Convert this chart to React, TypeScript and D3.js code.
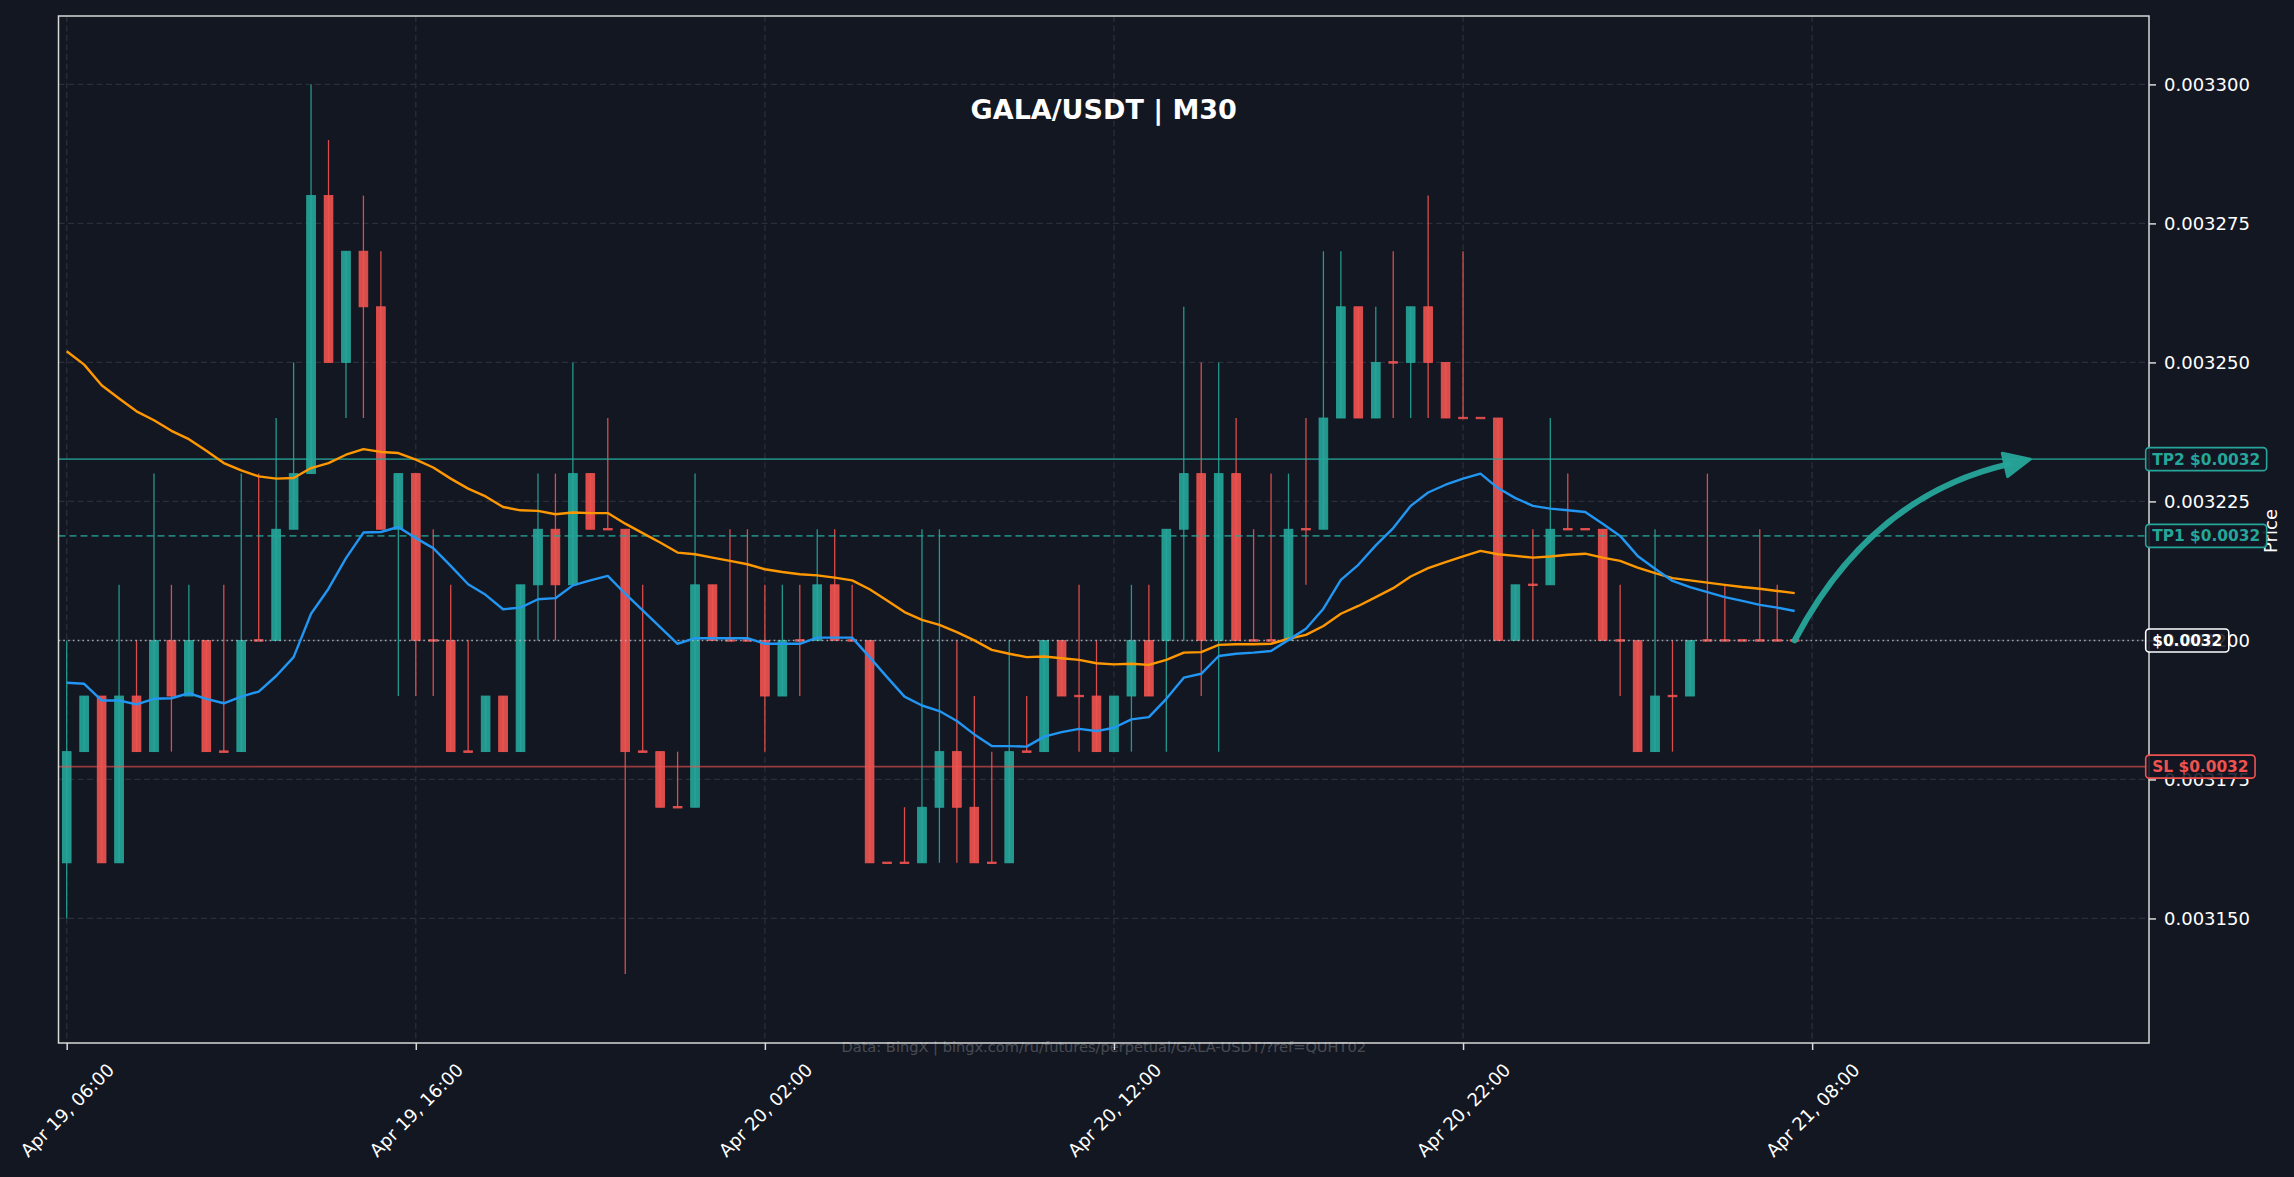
import React, { useRef, useEffect } from 'react';
import * as d3 from 'd3';

const W = 2294;
const H = 1177;

// candle times: M30 bars starting Apr 19, 06:00
const startTime = new Date(2025, 3, 19, 6, 0);
const barMinutes = 30;

const opens = [
  0.00316, 0.00318, 0.00319, 0.00316, 0.00319, 0.00318, 0.0032, 0.00319, 0.0032, 0.00318,
  0.00318, 0.0032, 0.0032, 0.00322, 0.00323, 0.00328, 0.00325, 0.00327, 0.00326, 0.00322,
  0.00323, 0.0032, 0.0032, 0.00318, 0.00318, 0.00319, 0.00318, 0.00321, 0.00322, 0.00321,
  0.00323, 0.00322, 0.00322, 0.00318, 0.00318, 0.00317, 0.00317, 0.00321, 0.0032, 0.0032,
  0.0032, 0.00319, 0.0032, 0.0032, 0.00321, 0.0032, 0.0032, 0.00316, 0.00316, 0.00316,
  0.00317, 0.00318, 0.00317, 0.00316, 0.00316, 0.00318, 0.00318, 0.0032, 0.00319, 0.00319,
  0.00318, 0.00319, 0.0032, 0.0032, 0.00322, 0.00323, 0.0032, 0.00323, 0.0032, 0.0032,
  0.0032, 0.00322, 0.00322, 0.00324, 0.00326, 0.00324, 0.00325, 0.00325, 0.00326, 0.00325,
  0.00324, 0.00324, 0.00324, 0.0032, 0.00321, 0.00321, 0.00322, 0.00322, 0.00322, 0.0032,
  0.0032, 0.00318, 0.00319, 0.00319, 0.0032, 0.0032, 0.0032, 0.0032, 0.0032, 0.0032,
];
const highs = [
  0.0032, 0.00319, 0.00319, 0.00321, 0.0032, 0.00323, 0.00321, 0.00321, 0.0032, 0.00321,
  0.00323, 0.00323, 0.00324, 0.00325, 0.0033, 0.00329, 0.00327, 0.00328, 0.00327, 0.00323,
  0.00323, 0.00322, 0.00321, 0.0032, 0.00319, 0.00319, 0.00321, 0.00323, 0.00323, 0.00325,
  0.00323, 0.00324, 0.00322, 0.00321, 0.00318, 0.00318, 0.00323, 0.00321, 0.00322, 0.00322,
  0.00321, 0.00321, 0.00321, 0.00322, 0.00322, 0.00321, 0.0032, 0.00316, 0.00317, 0.00322,
  0.00322, 0.0032, 0.00319, 0.00318, 0.0032, 0.00319, 0.0032, 0.0032, 0.00321, 0.0032,
  0.00319, 0.00321, 0.00321, 0.00322, 0.00326, 0.00325, 0.00325, 0.00324, 0.00322, 0.00323,
  0.00323, 0.00324, 0.00327, 0.00327, 0.00326, 0.00326, 0.00327, 0.00326, 0.00328, 0.00325,
  0.00327, 0.00324, 0.00324, 0.00321, 0.00322, 0.00324, 0.00323, 0.00322, 0.00322, 0.00321,
  0.0032, 0.00322, 0.0032, 0.0032, 0.00323, 0.00321, 0.0032, 0.00322, 0.00321, 0.0032,
];
const lows = [
  0.00315, 0.00318, 0.00316, 0.00316, 0.00318, 0.00318, 0.00318, 0.00319, 0.00318, 0.00318,
  0.00318, 0.0032, 0.0032, 0.00322, 0.00323, 0.00325, 0.00324, 0.00324, 0.00322, 0.00319,
  0.00319, 0.00319, 0.00318, 0.00318, 0.00318, 0.00318, 0.00318, 0.0032, 0.0032, 0.00321,
  0.00322, 0.00322, 0.00314, 0.00318, 0.00317, 0.00317, 0.00317, 0.0032, 0.0032, 0.0032,
  0.00318, 0.00319, 0.00319, 0.0032, 0.0032, 0.0032, 0.00316, 0.00316, 0.00316, 0.00316,
  0.00316, 0.00316, 0.00316, 0.00316, 0.00316, 0.00318, 0.00318, 0.00319, 0.00318, 0.00318,
  0.00318, 0.00318, 0.00319, 0.00318, 0.0032, 0.00319, 0.00318, 0.0032, 0.0032, 0.0032,
  0.0032, 0.00321, 0.00322, 0.00324, 0.00324, 0.00324, 0.00324, 0.00324, 0.00324, 0.00324,
  0.00324, 0.00324, 0.0032, 0.0032, 0.0032, 0.00321, 0.00322, 0.00322, 0.0032, 0.00319,
  0.00318, 0.00318, 0.00318, 0.00319, 0.0032, 0.0032, 0.0032, 0.0032, 0.0032, 0.0032,
];
const closes = [
  0.00318, 0.00319, 0.00316, 0.00319, 0.00318, 0.0032, 0.00319, 0.0032, 0.00318, 0.00318,
  0.0032, 0.0032, 0.00322, 0.00323, 0.00328, 0.00325, 0.00327, 0.00326, 0.00322, 0.00323,
  0.0032, 0.0032, 0.00318, 0.00318, 0.00319, 0.00318, 0.00321, 0.00322, 0.00321, 0.00323,
  0.00322, 0.00322, 0.00318, 0.00318, 0.00317, 0.00317, 0.00321, 0.0032, 0.0032, 0.0032,
  0.00319, 0.0032, 0.0032, 0.00321, 0.0032, 0.0032, 0.00316, 0.00316, 0.00316, 0.00317,
  0.00318, 0.00317, 0.00316, 0.00316, 0.00318, 0.00318, 0.0032, 0.00319, 0.00319, 0.00318,
  0.00319, 0.0032, 0.00319, 0.00322, 0.00323, 0.0032, 0.00323, 0.0032, 0.0032, 0.0032,
  0.00322, 0.00322, 0.00324, 0.00326, 0.00324, 0.00325, 0.00325, 0.00326, 0.00325, 0.00324,
  0.00324, 0.00324, 0.0032, 0.00321, 0.00321, 0.00322, 0.00322, 0.00322, 0.0032, 0.0032,
  0.00318, 0.00319, 0.00319, 0.0032, 0.0032, 0.0032, 0.0032, 0.0032, 0.0032, 0.0032,
];

// moving averages (blue = fast, orange = slow)
const maFast = [
  0.0031924, 0.0031922, 0.0031892, 0.0031892, 0.0031885, 0.0031895, 0.0031896, 0.0031905, 0.0031895, 0.0031887,
  0.0031899, 0.0031908, 0.0031936, 0.003197, 0.0032048, 0.0032093, 0.0032148, 0.0032194, 0.0032195, 0.0032204,
  0.0032184, 0.0032166, 0.0032134, 0.0032101, 0.0032082, 0.0032056, 0.0032059, 0.0032074, 0.0032076, 0.0032099,
  0.0032108, 0.0032116, 0.0032084, 0.0032054, 0.0032024, 0.0031994, 0.0032004, 0.0032004, 0.0032004, 0.0032004,
  0.0031994, 0.0031994, 0.0031994, 0.0032005, 0.0032005, 0.0032005, 0.003197, 0.0031934, 0.0031899, 0.0031883,
  0.0031873, 0.0031855, 0.0031831, 0.003181, 0.003181, 0.0031809, 0.0031827, 0.0031835, 0.0031841, 0.0031837,
  0.0031843, 0.0031858, 0.0031862, 0.0031895, 0.0031933, 0.003194, 0.0031972, 0.0031976, 0.0031978, 0.0031981,
  0.0032001, 0.0032021, 0.0032057, 0.0032109, 0.0032136, 0.0032171, 0.0032202, 0.0032242, 0.0032266, 0.003228,
  0.0032291, 0.00323, 0.0032274, 0.0032256, 0.0032242, 0.0032237, 0.0032234, 0.0032231, 0.003221, 0.0032188,
  0.0032152, 0.0032129, 0.0032107, 0.0032096, 0.0032087, 0.0032078, 0.0032071, 0.0032064, 0.0032059, 0.0032053,
];
const maSlow = [
  0.003252, 0.0032496, 0.0032459, 0.0032435, 0.0032412, 0.0032396, 0.0032377, 0.0032362, 0.0032341, 0.0032319,
  0.0032306, 0.0032295, 0.0032291, 0.0032292, 0.003231, 0.0032319, 0.0032334, 0.0032344, 0.0032339, 0.0032337,
  0.0032325, 0.0032311, 0.0032291, 0.0032273, 0.0032259, 0.003224, 0.0032234, 0.0032233, 0.0032227, 0.003223,
  0.0032229, 0.0032229, 0.003221, 0.0032193, 0.0032176, 0.0032158, 0.0032155, 0.0032149, 0.0032143, 0.0032137,
  0.0032128, 0.0032123, 0.0032119, 0.0032117, 0.0032113, 0.0032108, 0.0032092, 0.0032072, 0.0032051, 0.0032037,
  0.0032028, 0.0032015, 0.0032, 0.0031983, 0.0031976, 0.003197, 0.0031971, 0.0031968, 0.0031965, 0.0031959,
  0.0031957, 0.0031958, 0.0031956, 0.0031965, 0.0031978, 0.0031979, 0.0031992, 0.0031993, 0.0031993, 0.0031994,
  0.0032003, 0.003201, 0.0032026, 0.0032048, 0.0032062, 0.0032078, 0.0032094, 0.0032115, 0.003213, 0.0032141,
  0.0032151, 0.0032161, 0.0032155, 0.0032152, 0.0032149, 0.0032151, 0.0032154, 0.0032156, 0.0032149, 0.0032143,
  0.0032131, 0.0032121, 0.0032112, 0.0032108, 0.0032104, 0.00321, 0.0032096, 0.0032093, 0.0032089, 0.0032085,
];

// trade levels
const tp2Price = 0.0032326;
const tp1Price = 0.0032188;
const lastPrice = 0.0032;
const slPrice = 0.0031773;

const priceTicks = [0.00315, 0.003175, 0.0032, 0.003225, 0.00325, 0.003275, 0.0033];
const timeTicks = ['2025-04-19T06:00', '2025-04-19T16:00', '2025-04-20T02:00', '2025-04-20T12:00', '2025-04-20T22:00', '2025-04-21T08:00'];
const arrowTarget = { time: '2025-04-21T14:15', price: tp2Price };

const titleText = 'GALA/USDT | M30';
const sourceText = 'Data: BingX | bingx.com/ru/futures/perpetual/GALA-USDT/?ref=QUHT02';

const GREEN = '#26a69a';
const RED = '#ef5350';
const BG = '#131722';
const FONT = 'DejaVu Sans, sans-serif';

export default function App() {
  const svgRef = useRef<SVGSVGElement>(null);

  useEffect(() => {
    document.body.style.margin = '0';
    document.body.style.background = BG;

    const svg = d3.select(svgRef.current);
    svg.selectAll('*').remove();

    const box = { left: 58.5, right: 2149, top: 16, bottom: 1043 };
    const minute = 60000;
    const times = closes.map((_, i) => new Date(startTime.getTime() + i * barMinutes * minute));

    const x = d3.scaleTime()
      .domain([new Date(startTime.getTime() - 14.1 * minute), new Date(startTime.getTime() + 3579 * minute)])
      .range([box.left, box.right]);
    const y = d3.scaleLinear().domain([0.0031276, 0.0033123]).range([box.bottom, box.top]);

    const step = x(times[1]) - x(times[0]);
    const bodyW = step * 0.5;

    svg.append('rect').attr('width', W).attr('height', H).attr('fill', BG);

    svg.append('defs').append('clipPath').attr('id', 'plot-clip')
      .append('rect')
      .attr('x', box.left).attr('y', box.top)
      .attr('width', box.right - box.left).attr('height', box.bottom - box.top);

    const plot = svg.append('g').attr('clip-path', 'url(#plot-clip)');

    // grid
    plot.selectAll('.hgrid').data(priceTicks).join('line')
      .attr('x1', box.left).attr('x2', box.right)
      .attr('y1', d => y(d)).attr('y2', d => y(d))
      .attr('stroke', '#2a2e39').attr('stroke-width', 1.3).attr('stroke-dasharray', '6,3.5');
    const tickDates = timeTicks.map(t => new Date(t));
    plot.selectAll('.vgrid').data(tickDates).join('line')
      .attr('x1', d => x(d)).attr('x2', d => x(d))
      .attr('y1', box.top).attr('y2', box.bottom)
      .attr('stroke', '#2a2e39').attr('stroke-width', 1.3).attr('stroke-dasharray', '6,3.5');

    // candles
    const idx = d3.range(closes.length);
    const colorOf = (i: number) => (closes[i] > opens[i] ? GREEN : RED);
    const candles = plot.append('g');
    candles.selectAll('.wick').data(idx).join('line')
      .attr('x1', i => x(times[i])).attr('x2', i => x(times[i]))
      .attr('y1', i => y(highs[i])).attr('y2', i => y(lows[i]))
      .attr('stroke', i => colorOf(i)).attr('stroke-width', 1.3).attr('opacity', 0.9);
    candles.selectAll('.body').data(idx).join('rect')
      .attr('x', i => x(times[i]) - bodyW / 2)
      .attr('width', bodyW)
      .attr('y', i => y(Math.max(opens[i], closes[i])) - (opens[i] === closes[i] ? 0.75 : 0))
      .attr('height', i => Math.max(Math.abs(y(opens[i]) - y(closes[i])), 1.5))
      .attr('fill', i => colorOf(i)).attr('fill-opacity', 0.9)
      .attr('stroke', i => colorOf(i)).attr('stroke-width', 0.8);

    // level lines
    const levelLine = (p: number, color: string, dash: string | null, op: number) => {
      const l = plot.append('line')
        .attr('x1', box.left).attr('x2', box.right)
        .attr('y1', y(p)).attr('y2', y(p))
        .attr('stroke', color).attr('stroke-width', 1.6).attr('opacity', op);
      if (dash) l.attr('stroke-dasharray', dash);
    };
    levelLine(tp2Price, GREEN, null, 0.75);
    levelLine(tp1Price, GREEN, '7,4', 0.75);
    levelLine(lastPrice, '#b2b5be', '1.6,3.2', 0.9);
    levelLine(slPrice, RED, null, 0.6);

    // moving averages
    const line = d3.line<number>().x((_, i) => x(times[i])).y(d => y(d));
    plot.append('path').attr('d', line(maSlow)).attr('fill', 'none')
      .attr('stroke', '#ff9800').attr('stroke-width', 2.4).attr('stroke-linejoin', 'round');
    plot.append('path').attr('d', line(maFast)).attr('fill', 'none')
      .attr('stroke', '#2196f3').attr('stroke-width', 2.4).attr('stroke-linejoin', 'round');

    // projection arrow
    const last = closes.length - 1;
    const p0: [number, number] = [x(times[last]), y(closes[last])];
    const tip: [number, number] = [x(new Date(arrowTarget.time)), y(arrowTarget.price)];
    const mid: [number, number] = [(p0[0] + tip[0]) / 2, (p0[1] + tip[1]) / 2];
    const dx = tip[0] - p0[0];
    const dy = tip[1] - p0[1];
    const ctrl: [number, number] = [mid[0] + 0.23 * dy, mid[1] - 0.23 * dx];
    const tl = Math.hypot(tip[0] - ctrl[0], tip[1] - ctrl[1]);
    const ux = (tip[0] - ctrl[0]) / tl;
    const uy = (tip[1] - ctrl[1]) / tl;
    const headL = 26;
    const headHW = 12;
    const base: [number, number] = [tip[0] - ux * headL, tip[1] - uy * headL];
    const shaftEnd: [number, number] = [tip[0] - ux * (headL - 4), tip[1] - uy * (headL - 4)];
    const arrowPath = d3.path();
    arrowPath.moveTo(p0[0], p0[1]);
    arrowPath.quadraticCurveTo(ctrl[0], ctrl[1], shaftEnd[0], shaftEnd[1]);
    plot.append('path').attr('d', arrowPath.toString()).attr('fill', 'none')
      .attr('stroke', GREEN).attr('stroke-width', 6).attr('stroke-linecap', 'round').attr('opacity', 0.95);
    plot.append('path')
      .attr('d', `M${tip[0]},${tip[1]}L${base[0] - uy * headHW},${base[1] + ux * headHW}L${base[0] + uy * headHW},${base[1] - ux * headHW}Z`)
      .attr('fill', GREEN).attr('stroke', GREEN).attr('stroke-width', 3).attr('stroke-linejoin', 'round').attr('opacity', 0.95);

    // title
    svg.append('text').attr('x', (box.left + box.right) / 2).attr('y', 119)
      .attr('text-anchor', 'middle').attr('fill', '#ffffff')
      .style('font-family', FONT).style('font-size', '27px').style('font-weight', 'bold')
      .text(titleText);

    // spines
    svg.append('rect')
      .attr('x', box.left).attr('y', box.top)
      .attr('width', box.right - box.left).attr('height', box.bottom - box.top)
      .attr('fill', 'none').attr('stroke', '#d9d9d9').attr('stroke-width', 1.5);

    // source note
    svg.append('text').attr('x', (box.left + box.right) / 2).attr('y', 1052)
      .attr('text-anchor', 'middle').attr('fill', '#ffffff').attr('opacity', 0.22)
      .style('font-family', FONT).style('font-size', '14.6px')
      .text(sourceText);

    // right price axis
    const yAxis = svg.append('g')
      .attr('transform', `translate(${box.right},0)`)
      .call(d3.axisRight(y).tickValues(priceTicks).tickFormat(d3.format('.6f')).tickSize(7).tickPadding(8));
    yAxis.select('.domain').remove();
    yAxis.selectAll('.tick line').attr('stroke', '#d9d9d9').attr('stroke-width', 1.5);
    yAxis.selectAll('.tick text').attr('fill', '#ffffff')
      .style('font-family', FONT).style('font-size', '18px');

    // bottom time axis
    const xAxis = svg.append('g')
      .attr('transform', `translate(0,${box.bottom})`)
      .call(d3.axisBottom(x).tickValues(tickDates).tickFormat(d3.timeFormat('%b %d, %H:%M') as any).tickSize(7));
    xAxis.select('.domain').remove();
    xAxis.selectAll('.tick line').attr('stroke', '#d9d9d9').attr('stroke-width', 1.5);
    xAxis.selectAll('.tick text')
      .attr('y', 0).attr('dy', null)
      .attr('text-anchor', 'middle').attr('dominant-baseline', 'central')
      .attr('transform', 'translate(0,67) rotate(-45)')
      .attr('fill', '#ffffff')
      .style('font-family', FONT).style('font-size', '18px');

    svg.append('text')
      .attr('transform', `translate(2270,531) rotate(-90)`)
      .attr('text-anchor', 'middle').attr('dominant-baseline', 'central')
      .attr('fill', '#ffffff')
      .style('font-family', FONT).style('font-size', '18px')
      .text('Price');

    // level tags on the right axis
    const tag = (p: number, label: string, color: string) => {
      const g = svg.append('g');
      const cy = y(p);
      const rect = g.append('rect');
      const t = g.append('text')
        .attr('x', 2152.2).attr('y', cy + 0.5)
        .attr('dominant-baseline', 'central')
        .attr('fill', color)
        .style('font-family', FONT).style('font-size', '15.4px').style('font-weight', 'bold')
        .text(label);
      const w = (t.node() as SVGTextElement).getComputedTextLength();
      rect.attr('x', 2145.7).attr('y', cy - 11.5).attr('width', w + 13).attr('height', 23)
        .attr('rx', 3.5).attr('fill', BG).attr('fill-opacity', 0.88)
        .attr('stroke', color).attr('stroke-width', 1.6);
    };
    tag(tp2Price, 'TP2 $0.0032', GREEN);
    tag(tp1Price, 'TP1 $0.0032', GREEN);
    tag(lastPrice, '$0.0032', '#ffffff');
    tag(slPrice, 'SL $0.0032', RED);
  }, []);

  return (
    <div style={{ width: W, height: H, overflow: 'hidden' }}>
      <svg ref={svgRef} width={W} height={H} viewBox={`0 0 ${W} ${H}`} style={{ display: 'block' }} />
    </div>
  );
}
